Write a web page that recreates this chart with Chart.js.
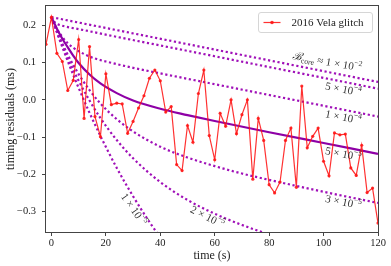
<!DOCTYPE html>
<html>
<head>
<meta charset="utf-8">
<script src="https://cdn.jsdelivr.net/npm/chart.js@4.4.1/dist/chart.umd.min.js"></script>
<style>
html,body{margin:0;padding:0;background:#fff;}
#wrap{width:391px;height:266px;position:relative;}
</style>
</head>
<body>
<div id="wrap"><canvas id="c" width="391" height="266"></canvas></div>
<script>
// ---- observed timing residuals (2016 Vela glitch) ----
const obsTime = [-2,0,2,4,6,8,10,12,14,16,18,20,22,24,26,28,30,32,34,36,38,40,42,44,46,48,50,52,54,56,58,60,
  62,64,66,68,70,72,74,76,78,80,82,84,86,88,90,92,94,96,98,100,102,104,106,108,110,112,114,116,118,120];
const obsResid = [0.149,0.222,0.125,0.103,0.025,0.052,0.162,-0.050,0.143,-0.045,-0.099,0.070,-0.013,-0.009,-0.011,-0.090,
  -0.058,-0.022,0.011,0.058,0.080,0.051,-0.033,-0.018,-0.174,-0.190,-0.069,-0.114,0.017,0.080,-0.096,-0.161,
  -0.036,-0.071,0.000,-0.091,-0.040,0.000,-0.213,-0.050,-0.109,-0.228,-0.250,-0.221,-0.109,-0.076,-0.235,0.037,
  -0.129,-0.098,-0.076,-0.165,-0.204,-0.089,-0.094,-0.092,-0.183,-0.203,-0.122,-0.249,-0.237,-0.331];

// ---- model curves for different B_core ----
const tB1e2 = [0,120];
const vB1e2 = [0.222,0.048];
const tB5e4 = [0,1,2,4,7,10,20,40,60,80,100,120];
const vB5e4 = [0.222,0.210,0.204,0.199,0.194,0.190,0.175,0.146,0.117,0.088,0.059,0.030];
const tB1e4 = [0,2,4,6,8,12,16,20,30,40,60,80,100,120];
const vB1e4 = [0.222,0.191,0.169,0.152,0.140,0.123,0.111,0.103,0.086,0.071,0.042,0.013,-0.016,-0.045];
const tB5e5 = [0,2,4,6,8,10,14,18,24,30,40,50,60,80,100,120];
const vB5e5 = [0.222,0.191,0.164,0.141,0.119,0.099,0.068,0.044,0.018,-0.002,-0.024,-0.041,-0.057,-0.087,-0.116,-0.145];
const tB3e5 = [0,2,4,6,8,10,14,18,24,30,40,50,60,70,80,100,120];
const vB3e5 = [0.222,0.185,0.151,0.121,0.094,0.069,0.026,-0.010,-0.052,-0.085,-0.126,-0.155,-0.178,-0.198,-0.215,-0.247,-0.277];
const tB2e5 = [0,2,4,6,8,10,14,18,24,30,40,50,60,70,80];
const vB2e5 = [0.222,0.183,0.146,0.112,0.081,0.051,-0.002,-0.049,-0.108,-0.157,-0.221,-0.269,-0.306,-0.336,-0.362];
const tB1e5 = [0,2,4,6,8,10,14,18,24,30,36,42];
const vB1e5 = [0.222,0.181,0.142,0.104,0.067,0.032,-0.035,-0.097,-0.183,-0.259,-0.328,-0.390];

// ---- tick labels ----
const xTickVals = [0,20,40,60,80,100,120];
const yTickVals = [-0.3,-0.2,-0.1,0.0,0.1,0.2];
const legendLabel = '2016 Vela glitch';
const xTitle = 'time (s)';
const yTitle = 'timing residuals (ms)';

// ---- curve annotations ----
const curveLabels = [
  {segs:[{t:'ℬ',it:true},{t:'core',sub:true},{t:' ≈ 1 × 10'},{t:'−2',sup:true}], x:101.3, y:0.1005, rot:10},
  {segs:[{t:'5 × 10'},{t:'−4',sup:true}], x:107.2, y:0.027, rot:11},
  {segs:[{t:'1 × 10'},{t:'−4',sup:true}], x:107.2, y:-0.048, rot:11},
  {segs:[{t:'5 × 10'},{t:'−5',sup:true}], x:107.2, y:-0.147, rot:11},
  {segs:[{t:'3 × 10'},{t:'−5',sup:true}], x:107.2, y:-0.276, rot:12},
  {segs:[{t:'2 × 10'},{t:'−5',sup:true}], x:57.2, y:-0.316, rot:27},
  {segs:[{t:'1 × 10'},{t:'−5',sup:true}], x:30.1, y:-0.295, rot:55}
];

const FONT = '"Liberation Serif", "DejaVu Serif", serif';
Chart.defaults.font.family = FONT;
Chart.defaults.color = '#222';

const RED = 'rgba(255,20,20,0.88)';
const PURPLE = '#8e00a6';
const DOTPURPLE = '#a010b8';

function pts(ts, vs){ return ts.map((t,i)=>({x:t,y:vs[i]})); }

function dotted(ts, vs){
  return {data:pts(ts,vs), borderColor:DOTPURPLE, borderWidth:2.2, borderDash:[2.2,2.6],
    pointRadius:0, cubicInterpolationMode:'monotone', fill:false, order:3};
}

function drawRich(ctx, segs, size){
  const base = size + 'px ' + FONT;
  const small = (size*0.7).toFixed(1) + 'px ' + FONT;
  const fontOf = s => (s.it ? 'italic ' : '') + ((s.sub||s.sup) ? small : base);
  let w = 0;
  const ws = segs.map(s => { ctx.font = fontOf(s); const m = ctx.measureText(s.t).width; w += m; return m; });
  let x = -w/2;
  segs.forEach((s,i) => {
    ctx.font = fontOf(s);
    const dy = s.sub ? size*0.28 : (s.sup ? -size*0.38 : 0);
    ctx.fillText(s.t, x, dy);
    x += ws[i];
  });
}

const decor = {
  id:'decor',
  afterDatasetsDraw(chart){
    const {ctx, scales:{x,y}} = chart;
    ctx.save();
    ctx.fillStyle = '#333';
    ctx.textBaseline = 'middle';
    ctx.textAlign = 'left';
    curveLabels.forEach(l => {
      ctx.save();
      ctx.translate(x.getPixelForValue(l.x), y.getPixelForValue(l.y));
      ctx.rotate(l.rot*Math.PI/180);
      drawRich(ctx, l.segs, 11);
      ctx.restore();
    });
    ctx.restore();
  },
  afterDraw(chart){
    const {ctx, chartArea:a} = chart;
    ctx.save();
    ctx.strokeStyle = '#444';
    ctx.lineWidth = 1;
    ctx.strokeRect(Math.round(a.left)-0.5, Math.round(a.top)-0.5, Math.round(a.right-a.left)+1, Math.round(a.bottom-a.top)+1);
    // legend (upper right, inside the axes)
    const x1 = Math.round(a.right) - 5.5, y0 = Math.round(a.top) + 6.5;
    const x0 = x1 - 114, y1 = y0 + 20;
    ctx.fillStyle = 'rgba(255,255,255,0.85)';
    ctx.strokeStyle = '#d6d6d6';
    ctx.beginPath();
    if (ctx.roundRect) ctx.roundRect(x0, y0, x1-x0, y1-y0, 2.5); else ctx.rect(x0,y0,x1-x0,y1-y0);
    ctx.fill(); ctx.stroke();
    const cy = (y0 + y1)/2;
    ctx.strokeStyle = RED; ctx.lineWidth = 1.2;
    ctx.beginPath(); ctx.moveTo(x0+5, cy); ctx.lineTo(x0+22, cy); ctx.stroke();
    ctx.fillStyle = RED; ctx.beginPath(); ctx.arc(x0+13.5, cy, 1.8, 0, Math.PI*2); ctx.fill();
    ctx.fillStyle = '#222';
    ctx.font = '11px ' + FONT;
    ctx.textBaseline = 'middle';
    ctx.textAlign = 'left';
    ctx.fillText(legendLabel, x0 + 33, cy + 0.5);
    ctx.restore();
  }
};

new Chart(document.getElementById('c'), {
  type:'line',
  data:{
    datasets:[
      {label:legendLabel, data:pts(obsTime,obsResid), borderColor:RED, backgroundColor:RED, borderWidth:1.2,
        pointRadius:1.6, pointBorderWidth:0, pointBackgroundColor:RED, tension:0, fill:false, order:0},
      {label:'fit', data:pts(tB5e5,vB5e5), borderColor:PURPLE, borderWidth:2.2, pointRadius:0, cubicInterpolationMode:'monotone', fill:false, order:1},
      dotted(tB1e2,vB1e2), dotted(tB5e4,vB5e4), dotted(tB1e4,vB1e4), dotted(tB3e5,vB3e5), dotted(tB2e5,vB2e5), dotted(tB1e5,vB1e5)
    ]
  },
  options:{
    responsive:false, animation:false, devicePixelRatio:1,
    layout:{padding:{left:0, right:13, top:6, bottom:0}},
    plugins:{
      tooltip:{enabled:false},
      legend:{display:false}
    },
    scales:{
      x:{
        type:'linear', min:-2, max:120,
        afterFit(s){ s.height = 34; s.paddingLeft = 0; s.paddingRight = 0; },
        afterBuildTicks(s){ s.ticks = xTickVals.map(v=>({value:v})); },
        grid:{drawOnChartArea:false, drawTicks:true, tickLength:4, color:'#444'},
        border:{display:false},
        ticks:{autoSkip:false, maxRotation:0, padding:1, font:{size:10.5}, color:'#222', callback:v=>String(v)},
        title:{display:true, text:xTitle, font:{size:12}, color:'#222', padding:{top:0,bottom:3}}
      },
      y:{
        type:'linear', min:-0.355, max:0.252,
        afterFit(s){ s.width = 46; s.paddingTop = 0; s.paddingBottom = 0; },
        afterBuildTicks(s){ s.ticks = yTickVals.map(v=>({value:v})); },
        grid:{drawOnChartArea:false, drawTicks:true, tickLength:4, color:'#444'},
        border:{display:false},
        ticks:{autoSkip:false, padding:6, font:{size:10.5}, color:'#222',
          callback:v=>{ const r = Math.round(v*10)/10; return (r<0?'−':'') + Math.abs(r).toFixed(1); }},
        title:{display:true, text:yTitle, font:{size:12}, color:'#222', padding:{top:4,bottom:0}}
      }
    }
  },
  plugins:[decor]
});
</script>
</body>
</html>
